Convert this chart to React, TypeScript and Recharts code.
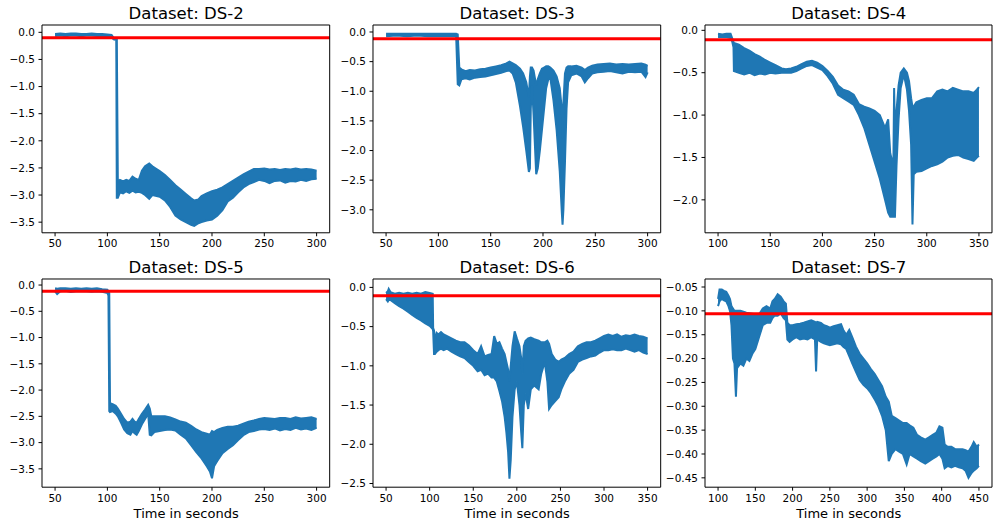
import React from 'react';
import { ComposedChart, Area, XAxis, YAxis, ReferenceLine } from 'recharts';

type Row = [number, number, number]; // [time, upper, lower]

const ds2Band: Row[] = [
  [50, -0.03, -0.07], [55, -0.02, -0.06], [60, -0.03, -0.07], [65, -0.02, -0.06], [70, -0.02, -0.06],
  [75, -0.03, -0.07], [80, -0.03, -0.06], [85, -0.02, -0.06], [90, -0.03, -0.07], [95, -0.03, -0.07],
  [100, -0.04, -0.08], [104, -0.05, -0.09], [106, -0.1, -0.13], [108.5, -0.11, -0.14], [109, -0.12, -3.05],
  [110, -2.75, -3.05], [112, -2.72, -2.95], [115, -2.75, -2.97], [118, -2.72, -2.93], [121, -2.74, -2.96],
  [124, -2.66, -2.92], [127, -2.7, -2.95], [130, -2.72, -2.94], [133, -2.55, -2.96], [136, -2.47, -3.0],
  [140, -2.42, -3.07], [143, -2.47, -3.0], [147, -2.52, -3.02], [150, -2.56, -3.03], [155, -2.63, -3.1],
  [160, -2.72, -3.22], [165, -2.82, -3.38], [170, -2.9, -3.45], [175, -2.98, -3.5], [180, -3.06, -3.55],
  [183, -3.1, -3.57], [187, -3.08, -3.52], [190, -3.02, -3.5], [195, -2.97, -3.47], [200, -2.93, -3.45],
  [205, -2.9, -3.38], [210, -2.86, -3.28], [215, -2.8, -3.12], [220, -2.74, -3.05], [225, -2.68, -2.95],
  [230, -2.62, -2.86], [235, -2.57, -2.8], [240, -2.52, -2.76], [245, -2.52, -2.72], [250, -2.51, -2.74],
  [255, -2.53, -2.78], [260, -2.52, -2.74], [265, -2.54, -2.73], [270, -2.52, -2.77], [275, -2.53, -2.74],
  [280, -2.51, -2.75], [285, -2.53, -2.72], [290, -2.52, -2.74], [295, -2.53, -2.71], [300, -2.55, -2.7],
];

const ds3Band: Row[] = [
  [50, -0.03, -0.07], [60, -0.03, -0.06], [70, -0.03, -0.07], [80, -0.03, -0.06], [90, -0.03, -0.07],
  [100, -0.03, -0.07], [110, -0.03, -0.07], [117, -0.03, -0.07], [118.5, -0.04, -0.88], [120, -0.6, -0.9],
  [122, -0.63, -0.8], [126, -0.66, -0.78], [130, -0.64, -0.8], [135, -0.65, -0.77], [140, -0.63, -0.76],
  [145, -0.62, -0.75], [150, -0.6, -0.73], [155, -0.58, -0.71], [160, -0.56, -0.69], [165, -0.53, -0.66],
  [168, -0.5, -0.65], [171, -0.53, -0.7], [174, -0.56, -0.85], [178, -0.62, -1.25], [181, -0.7, -1.6],
  [184, -0.85, -2.0], [186.5, -1.1, -2.36], [187.5, -0.75, -2.3], [188.3, -0.6, -1.3], [189.5, -0.6, -0.9],
  [191, -0.65, -1.4], [193.5, -0.9, -2.4], [195, -0.8, -2.3], [197, -0.7, -2.0], [199, -0.62, -1.65],
  [201, -0.6, -1.3], [203, -0.58, -0.95], [205, -0.58, -0.8], [207, -0.6, -0.78], [210, -0.65, -1.15],
  [213, -0.75, -1.65], [216, -0.95, -2.35], [218, -1.3, -3.05], [218.7, -1.8, -3.25], [219.5, -1.2, -3.0],
  [221, -0.7, -2.2], [222.5, -0.6, -1.3], [224, -0.58, -0.85], [227, -0.58, -0.73], [232, -0.57, -0.7],
  [237, -0.6, -0.75], [240, -0.64, -0.85], [243, -0.6, -0.78], [247, -0.57, -0.7], [252, -0.55, -0.68],
  [258, -0.54, -0.67], [264, -0.53, -0.66], [270, -0.55, -0.68], [276, -0.54, -0.7], [282, -0.55, -0.67],
  [288, -0.54, -0.68], [294, -0.53, -0.67], [298, -0.55, -0.76], [300, -0.57, -0.68],
];

const ds4Band: Row[] = [
  [100, -0.04, -0.08], [104, -0.05, -0.08], [108, -0.04, -0.08], [112, -0.04, -0.09], [113.5, -0.09, -0.13],
  [114.8, -0.14, -0.2], [115.2, -0.15, -0.48], [120, -0.17, -0.5], [125, -0.21, -0.52], [130, -0.24, -0.5],
  [135, -0.28, -0.53], [140, -0.31, -0.51], [145, -0.35, -0.52], [150, -0.38, -0.5], [155, -0.41, -0.51],
  [161, -0.45, -0.5], [165, -0.46, -0.5], [170, -0.45, -0.5], [175, -0.43, -0.48], [180, -0.4, -0.45],
  [185, -0.37, -0.42], [190, -0.36, -0.41], [195, -0.38, -0.44], [200, -0.42, -0.47], [205, -0.48, -0.54],
  [210, -0.55, -0.63], [215, -0.65, -0.76], [220, -0.7, -0.8], [225, -0.72, -0.84], [230, -0.76, -0.88],
  [235, -0.87, -1.0], [240, -0.9, -1.15], [245, -0.92, -1.35], [250, -0.95, -1.55], [255, -1.0, -1.75],
  [260, -1.15, -2.0], [263, -1.05, -2.15], [265, -1.45, -2.2], [268, -1.6, -2.2], [268.7, -0.68, -2.2],
  [269.5, -1.2, -2.2], [271, -0.95, -1.6], [273, -0.65, -1.05], [275, -0.5, -0.68], [278, -0.45, -0.52],
  [281, -0.5, -0.7], [283, -0.6, -0.95], [285, -0.8, -1.35], [286.3, -0.9, -2.29], [287.5, -0.9, -1.7],
  [290, -0.85, -1.67], [295, -0.82, -1.66], [300, -0.8, -1.63], [305, -0.8, -1.6], [310, -0.72, -1.58],
  [315, -0.7, -1.55], [320, -0.72, -1.5], [325, -0.68, -1.48], [330, -0.7, -1.47], [335, -0.72, -1.5],
  [340, -0.72, -1.52], [345, -0.74, -1.54], [348, -0.7, -1.5], [350, -0.67, -1.48],
];

const ds5Band: Row[] = [
  [50, -0.06, -0.12], [52, -0.07, -0.17], [55, -0.06, -0.12], [60, -0.06, -0.11], [65, -0.07, -0.13],
  [70, -0.06, -0.12], [75, -0.07, -0.12], [80, -0.06, -0.12], [85, -0.07, -0.13], [90, -0.06, -0.12],
  [95, -0.08, -0.13], [100, -0.09, -0.15], [101, -0.12, -0.2], [101.8, -0.15, -2.4], [102.5, -2.25, -2.42],
  [105, -2.27, -2.4], [108, -2.3, -2.45], [110, -2.35, -2.5], [113, -2.45, -2.62], [116, -2.55, -2.75],
  [119, -2.62, -2.82], [122, -2.6, -2.85], [124, -2.55, -2.78], [126, -2.6, -2.82], [128, -2.62, -2.85],
  [130, -2.55, -2.78], [133, -2.45, -2.65], [136, -2.37, -2.55], [139, -2.28, -2.45], [140.5, -2.35, -2.85],
  [142, -2.5, -2.86], [145, -2.5, -2.8], [150, -2.5, -2.78], [155, -2.5, -2.76], [160, -2.52, -2.75],
  [165, -2.56, -2.77], [170, -2.6, -2.85], [175, -2.62, -2.92], [180, -2.68, -3.05], [185, -2.75, -3.18],
  [190, -2.8, -3.3], [195, -2.83, -3.45], [198, -2.85, -3.55], [200, -2.78, -3.68], [202, -2.8, -3.45],
  [205, -2.76, -3.35], [210, -2.72, -3.2], [215, -2.7, -3.12], [220, -2.7, -3.05], [225, -2.68, -2.95],
  [230, -2.64, -2.86], [235, -2.6, -2.8], [240, -2.58, -2.78], [245, -2.55, -2.75], [250, -2.53, -2.74],
  [255, -2.54, -2.76], [260, -2.55, -2.73], [265, -2.53, -2.77], [270, -2.53, -2.74], [275, -2.55, -2.76],
  [280, -2.52, -2.72], [285, -2.54, -2.75], [290, -2.53, -2.73], [295, -2.52, -2.76], [300, -2.55, -2.72],
];

const ds6Band: Row[] = [
  [50, -0.07, -0.15], [52, -0.05, -0.18], [53, -0.02, -0.16], [55, -0.06, -0.16], [60, -0.08, -0.2],
  [65, -0.07, -0.24], [70, -0.08, -0.27], [75, -0.07, -0.31], [80, -0.08, -0.35], [85, -0.07, -0.39],
  [90, -0.08, -0.42], [95, -0.06, -0.46], [100, -0.07, -0.49], [103.5, -0.08, -0.53], [104, -0.52, -0.56],
  [105, -0.55, -0.85], [106, -0.68, -0.85], [108, -0.58, -0.82], [110, -0.6, -0.8], [113, -0.57, -0.78],
  [116, -0.6, -0.8], [120, -0.62, -0.78], [125, -0.65, -0.82], [130, -0.68, -0.85], [135, -0.7, -0.88],
  [140, -0.7, -0.9], [145, -0.74, -0.95], [150, -0.8, -1.0], [155, -0.85, -1.07], [159, -0.75, -1.05],
  [163, -0.88, -1.12], [167, -0.86, -1.1], [171, -0.85, -1.15], [174, -0.62, -1.15], [177, -0.72, -1.2],
  [180, -0.7, -1.32], [183, -0.78, -1.45], [186, -0.85, -1.65], [188, -0.95, -1.85], [190, -1.05, -2.1],
  [191.5, -1.2, -2.44], [193, -1.0, -2.2], [195, -0.75, -1.65], [197.5, -0.56, -1.3], [200, -0.65, -1.2],
  [203, -0.75, -1.5], [205, -0.9, -1.85], [206.3, -1.1, -2.05], [208, -0.75, -1.5], [210, -0.68, -1.35],
  [213, -0.65, -1.55], [216, -0.64, -1.3], [220, -0.66, -1.25], [225, -0.68, -1.3], [228, -0.7, -1.1],
  [232, -0.7, -0.95], [235, -0.68, -1.2], [237, -0.72, -1.55], [240, -0.85, -1.5], [244, -0.92, -1.45],
  [248, -0.95, -1.4], [251, -0.92, -1.3], [255, -0.9, -1.2], [260, -0.85, -1.1], [265, -0.82, -1.05],
  [270, -0.75, -0.95], [275, -0.72, -0.92], [280, -0.7, -0.9], [285, -0.7, -0.88], [290, -0.68, -0.87],
  [295, -0.65, -0.83], [300, -0.62, -0.8], [305, -0.6, -0.8], [310, -0.62, -0.79], [315, -0.6, -0.8],
  [320, -0.63, -0.8], [325, -0.61, -0.78], [330, -0.62, -0.8], [335, -0.6, -0.82], [340, -0.62, -0.8],
  [345, -0.63, -0.83], [350, -0.65, -0.85],
];

const ds7Band: Row[] = [
  [100, -0.075, -0.09], [102, -0.055, -0.08], [105, -0.055, -0.075], [108, -0.058, -0.078], [111, -0.06, -0.08],
  [114, -0.068, -0.09], [116, -0.075, -0.1], [118, -0.09, -0.13], [120, -0.095, -0.2], [122, -0.1, -0.21],
  [124, -0.1, -0.28], [125.5, -0.1, -0.22], [130, -0.1, -0.21], [134, -0.102, -0.215], [138, -0.104, -0.2],
  [142, -0.105, -0.205], [146, -0.106, -0.19], [150, -0.107, -0.18], [153, -0.108, -0.165], [156, -0.105, -0.15],
  [160, -0.095, -0.13], [165, -0.09, -0.125], [170, -0.095, -0.125], [173, -0.08, -0.115], [176, -0.075, -0.11],
  [180, -0.065, -0.11], [184, -0.07, -0.105], [188, -0.08, -0.115], [191, -0.085, -0.12], [193, -0.125, -0.16],
  [196, -0.13, -0.165], [200, -0.13, -0.16], [205, -0.128, -0.155], [210, -0.127, -0.16], [215, -0.125, -0.158],
  [220, -0.122, -0.16], [225, -0.12, -0.155], [230, -0.123, -0.16], [231.5, -0.125, -0.227], [233, -0.123, -0.16],
  [238, -0.125, -0.165], [242, -0.13, -0.168], [246, -0.132, -0.17], [250, -0.135, -0.172], [255, -0.132, -0.17],
  [260, -0.13, -0.168], [265, -0.128, -0.17], [268, -0.14, -0.175], [272, -0.15, -0.18], [276, -0.14, -0.195],
  [280, -0.155, -0.21], [285, -0.175, -0.228], [290, -0.19, -0.245], [295, -0.2, -0.255], [300, -0.21, -0.262],
  [305, -0.222, -0.272], [310, -0.232, -0.285], [315, -0.245, -0.3], [320, -0.258, -0.32], [325, -0.28, -0.35],
  [329, -0.29, -0.415], [333, -0.32, -0.4], [338, -0.325, -0.39], [343, -0.33, -0.395], [348, -0.335, -0.4],
  [353, -0.335, -0.422], [357, -0.34, -0.4], [362, -0.345, -0.405], [367, -0.36, -0.41], [372, -0.365, -0.415],
  [378, -0.37, -0.42], [383, -0.365, -0.415], [388, -0.36, -0.41], [393, -0.355, -0.405], [397, -0.342, -0.4],
  [401, -0.345, -0.41], [404, -0.38, -0.43], [408, -0.385, -0.425], [413, -0.385, -0.428], [418, -0.39, -0.425],
  [423, -0.39, -0.428], [428, -0.39, -0.43], [432, -0.392, -0.435], [436, -0.395, -0.45], [440, -0.385, -0.44],
  [443, -0.375, -0.435], [447, -0.385, -0.43], [450, -0.38, -0.425],
];

const titles = ['Dataset: DS-2', 'Dataset: DS-3', 'Dataset: DS-4', 'Dataset: DS-5', 'Dataset: DS-6', 'Dataset: DS-7'];
const thresholds = [-0.1, -0.113, -0.11, -0.12, -0.106, -0.106];

const xTicks50to300 = [50, 100, 150, 200, 250, 300];
const xTicks100to350 = [100, 150, 200, 250, 300, 350];
const xTicks50to350 = [50, 100, 150, 200, 250, 300, 350];
const xTicks100to450 = [100, 150, 200, 250, 300, 350, 400, 450];

const yTicksTo35 = [0, -0.5, -1, -1.5, -2, -2.5, -3, -3.5];
const yTicksTo30 = [0, -0.5, -1, -1.5, -2, -2.5, -3];
const yTicksTo20 = [0, -0.5, -1, -1.5, -2];
const yTicksTo25 = [0, -0.5, -1, -1.5, -2, -2.5];
const yTicksDs7 = [-0.05, -0.1, -0.15, -0.2, -0.25, -0.3, -0.35, -0.4, -0.45];

const xDomains: [number, number][] = [[37.5, 312.5], [37.5, 312.5], [87.5, 362.5], [37.5, 312.5], [35, 365], [82.5, 467.5]];
const yDomains: [number, number][] = [[-3.696, 0.135], [-3.388, 0.118], [-2.389, 0.063], [-3.849, 0.115], [-2.547, 0.107], [-0.4696, -0.0332]];

const bands = [ds2Band, ds3Band, ds4Band, ds5Band, ds6Band, ds7Band];
const xTickSets = [xTicks50to300, xTicks50to300, xTicks100to350, xTicks50to300, xTicks50to350, xTicks100to450];
const yTickSets = [yTicksTo35, yTicksTo30, yTicksTo20, yTicksTo35, yTicksTo25, yTicksDs7];
const yDecimals = [1, 1, 1, 1, 1, 2];

// layout
const FONT = "'DejaVu Sans', sans-serif";
const colLeft = [42.3, 373.3, 705.3];
const colWidth = [287.7, 287.7, 287.0];
const rowTop = [24.6, 279.3];
const rowHeight = [207.8, 208.2];
const titleBaseline = [19.5, 274];
const xlabelBaseline = 518.3;
const TITLE_FS = 16.5;
const TICK_FS = 10.5;
const LABEL_FS = 13;
const YW = 42;
const XH = 22;
const M = 4;

const fmt = (d: number) => (v: number) => v.toFixed(d).replace('-', '\u2212');

function Panel({ i }: { i: number }) {
  const col = i % 3;
  const row = Math.floor(i / 3);
  const left = colLeft[col];
  const width = colWidth[col];
  const top = rowTop[row];
  const height = rowHeight[row];
  const data = bands[i].map(([t, hi, lo]) => ({ t, range: [lo, hi] }));
  const tickStyle = { fill: '#000', fontSize: TICK_FS, fontFamily: FONT };
  const axisLine = { stroke: '#000', strokeWidth: 1 };
  return (
    <>
      <div
        style={{
          position: 'absolute',
          left,
          width,
          top: titleBaseline[row] - 0.846 * TITLE_FS,
          textAlign: 'center',
          fontFamily: FONT,
          fontSize: TITLE_FS,
          lineHeight: 1,
          color: '#000',
          whiteSpace: 'nowrap',
        }}
      >
        {titles[i]}
      </div>
      {row === 1 && (
        <div
          style={{
            position: 'absolute',
            left,
            width,
            top: xlabelBaseline - 0.846 * LABEL_FS,
            textAlign: 'center',
            fontFamily: FONT,
            fontSize: LABEL_FS,
            lineHeight: 1,
            color: '#000',
            whiteSpace: 'nowrap',
          }}
        >
          Time in seconds
        </div>
      )}
      <div style={{ position: 'absolute', left: left - YW, top: top - M - 1 }}>
        <ComposedChart
          width={YW + width + M + 1}
          height={M + 1 + height + XH}
          data={data}
          margin={{ top: M, right: M, bottom: 0, left: 0 }}
        >
          <XAxis
            dataKey="t"
            type="number"
            domain={xDomains[i]}
            ticks={xTickSets[i]}
            interval={0}
            allowDataOverflow
            height={XH}
            tickSize={3.5}
            tickMargin={3.5}
            axisLine={axisLine}
            tickLine={{ stroke: '#000' }}
            tick={tickStyle}
          />
          <XAxis
            xAxisId="top"
            orientation="top"
            dataKey="t"
            type="number"
            domain={xDomains[i]}
            allowDataOverflow
            height={1}
            tick={false}
            tickLine={false}
            axisLine={axisLine}
          />
          <YAxis
            type="number"
            domain={yDomains[i]}
            ticks={yTickSets[i]}
            interval={0}
            allowDataOverflow
            width={YW}
            tickSize={3.5}
            tickMargin={3.5}
            axisLine={axisLine}
            tickLine={{ stroke: '#000' }}
            tick={tickStyle}
            tickFormatter={fmt(yDecimals[i])}
          />
          <YAxis
            yAxisId="right"
            orientation="right"
            type="number"
            domain={yDomains[i]}
            allowDataOverflow
            width={1}
            tick={false}
            tickLine={false}
            axisLine={axisLine}
          />
          <Area
            xAxisId="top"
            yAxisId="right"
            dataKey="range"
            type="linear"
            stroke="none"
            fill="none"
            dot={false}
            activeDot={false}
            isAnimationActive={false}
          />
          <Area
            dataKey="range"
            type="linear"
            stroke="#1f77b4"
            strokeWidth={2}
            fill="#1f77b4"
            fillOpacity={1}
            dot={false}
            activeDot={false}
            isAnimationActive={false}
          />
          <ReferenceLine y={thresholds[i]} stroke="#ff0000" strokeWidth={3} />
        </ComposedChart>
      </div>
    </>
  );
}

export default function App() {
  return (
    <div
      style={{
        position: 'absolute',
        left: 0,
        top: 0,
        width: 993,
        height: 523,
        overflow: 'hidden',
        background: '#fff',
      }}
    >
      {[0, 1, 2, 3, 4, 5].map((i) => (
        <Panel key={i} i={i} />
      ))}
    </div>
  );
}
